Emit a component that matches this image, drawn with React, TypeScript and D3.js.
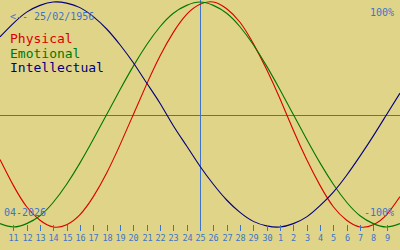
import React from "react";
import * as d3 from "d3";

const W = 400;
const H = 250;

// day offsets 0..30 correspond to 10 Apr .. 10 May
const physical = [-0.40, -0.63, -0.82, -0.94, -1.00, -0.98, -0.89, -0.73, -0.52, -0.27, 0, 0.27, 0.52, 0.73, 0.89, 0.98, 1.00, 0.94, 0.82, 0.63, 0.40, 0.14, -0.14, -0.40, -0.63, -0.82, -0.94, -1.00, -0.98, -0.89, -0.73];
const emotional = [-0.97, -1.00, -0.97, -0.90, -0.78, -0.62, -0.43, -0.22, 0, 0.22, 0.43, 0.62, 0.78, 0.90, 0.97, 1.00, 0.97, 0.90, 0.78, 0.62, 0.43, 0.22, 0, -0.22, -0.43, -0.62, -0.78, -0.90, -0.97, -1.00, -0.97];
const intellectual = [0.69, 0.81, 0.91, 0.97, 1.00, 0.99, 0.95, 0.87, 0.76, 0.62, 0.46, 0.28, 0.10, -0.10, -0.28, -0.46, -0.62, -0.76, -0.87, -0.95, -0.99, -1.00, -0.97, -0.91, -0.81, -0.69, -0.54, -0.37, -0.19, 0, 0.19];
const tickLabels = ["11", "12", "13", "14", "15", "16", "17", "18", "19", "20", "21", "22", "23", "24", "25", "26", "27", "28", "29", "30", "1", "2", "3", "4", "5", "6", "7", "8", "9"];
const legend = ["Physical", "Emotional", "Intellectual"];
const todayIndex = 15;

const BG = "#e0d488";
const BLUE = "#3c74c8";
const colors = ["#d80000", "#007800", "#00007c"];

export default function App() {
  const x = d3.scaleLinear().domain([0, 30]).range([0, W]);
  const y = d3.scaleLinear().domain([-1, 1]).range([227, 2]);
  const line = d3
    .line<number>()
    .x((_, i) => x(i))
    .y((d) => y(d))
    .curve(d3.curveNatural);
  const series = [physical, emotional, intellectual];

  return (
    <svg
      width={W}
      height={H}
      style={{ position: "absolute", left: 0, top: 0, background: BG, display: "block" }}
    >
      <rect x={0} y={0} width={W} height={H} fill={BG} />
      <line x1={0} x2={W} y1={115.5} y2={115.5} stroke={BLUE} strokeWidth={1} />
      <line x1={x(todayIndex) + 0.5} x2={x(todayIndex) + 0.5} y1={0} y2={230} stroke={BLUE} strokeWidth={1} />
      {series.map((s, i) => (
        <path key={i} d={line(s) || ""} fill="none" stroke={colors[i]} strokeWidth={1.1} />
      ))}
      {tickLabels.map((t, i) => {
        const xp = Math.round(x(i + 1)) + 0.5;
        return (
          <g key={i}>
            <line x1={xp} x2={xp} y1={225} y2={231} stroke={BLUE} strokeWidth={1} />
            <text
              x={xp}
              y={241}
              textAnchor="middle"
              fontFamily="DejaVu Sans Mono"
              fontSize={8.5}
              fill={BLUE}
            >
              {t}
            </text>
          </g>
        );
      })}
      <text x={10} y={20} fontFamily="DejaVu Sans Mono" fontSize={10} fill={BLUE}>
        {"<-- 25/02/1956"}
      </text>
      <text x={394} y={16} textAnchor="end" fontFamily="DejaVu Sans Mono" fontSize={10} fill={BLUE}>
        100%
      </text>
      <text x={394} y={216} textAnchor="end" fontFamily="DejaVu Sans Mono" fontSize={10} fill={BLUE}>
        -100%
      </text>
      <text x={4} y={216} fontFamily="DejaVu Sans Mono" fontSize={10} fill={BLUE}>
        04-2026
      </text>
      {legend.map((l, i) => (
        <text key={l} x={10} y={43 + i * 14.5} fontFamily="DejaVu Sans Mono" fontSize={13} fill={colors[i]}>
          {l}
        </text>
      ))}
    </svg>
  );
}
